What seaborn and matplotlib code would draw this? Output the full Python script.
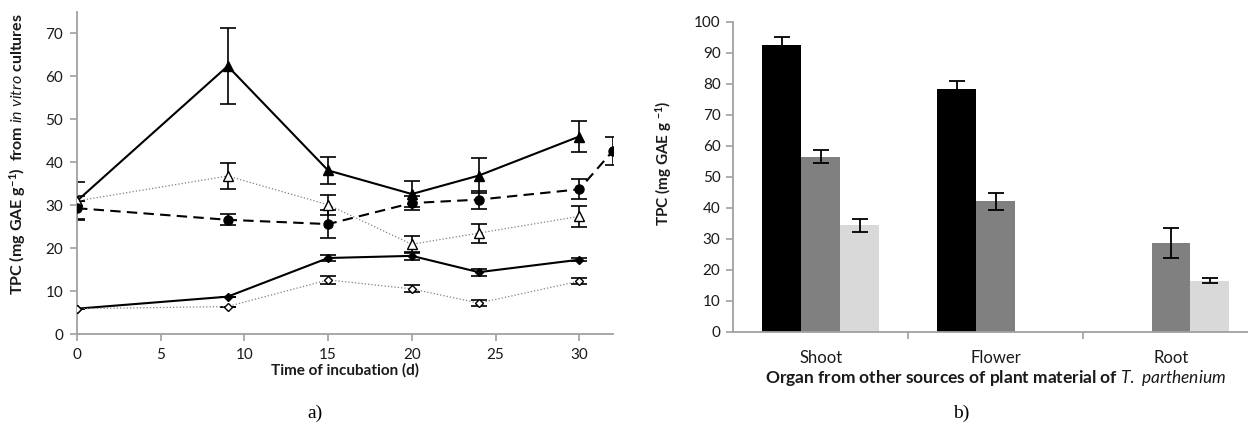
import numpy as np
import pandas as pd
import matplotlib
matplotlib.use("Agg")
import matplotlib.pyplot as plt
import seaborn as sns

# ---------------- data: panel a ----------------
days = [0, 9, 15, 20, 24, 30]
days_ext = [0, 9, 15, 20, 24, 30, 32]
tri_filled = [31.0, 62.4, 38.1, 32.6, 36.9, 46.0]
tri_filled_err = [4.3, 8.8, 3.2, 3.1, 4.0, 3.6]
tri_open = [31.0, 36.8, 30.1, 20.9, 23.5, 27.4]
tri_open_err = [0.0, 3.0, 2.3, 2.0, 2.2, 2.5]
circle = [29.3, 26.6, 25.6, 30.5, 31.3, 33.7, 42.6]
circle_err = [2.8, 1.3, 3.2, 1.6, 2.1, 2.3, 3.2]
dia_filled = [5.9, 8.7, 17.7, 18.2, 14.4, 17.3]
dia_filled_err = [0.0, 0.0, 0.7, 1.0, 0.8, 0.4]
dia_open = [5.9, 6.4, 12.6, 10.5, 7.2, 12.3]
dia_open_err = [0.0, 0.0, 0.9, 0.8, 0.7, 0.7]
x_ticks_a = [0, 5, 10, 15, 20, 25, 30]
y_ticks_a = [0, 10, 20, 30, 40, 50, 60, 70]

# ---------------- data: panel b ----------------
organs = ["Shoot", "Flower", "Root"]
sources = ["Source 1", "Source 2", "Source 3"]
bar_black = [92.6, 78.4, np.nan]
bar_black_err = [2.5, 2.5, np.nan]
bar_gray = [56.5, 42.1, 28.6]
bar_gray_err = [2.0, 2.7, 4.7]
bar_light = [34.3, np.nan, 16.5]
bar_light_err = [2.2, np.nan, 0.9]
y_ticks_b = [0, 10, 20, 30, 40, 50, 60, 70, 80, 90, 100]

sns.set_theme(style="white")
plt.rcParams["font.family"] = ["Lato", "DejaVu Sans"]
plt.rcParams["mathtext.fontset"] = "custom"
plt.rcParams["mathtext.rm"] = "Lato"
plt.rcParams["mathtext.it"] = "Lato:italic"
plt.rcParams["mathtext.bf"] = "Lato:bold"

W, H = 1248, 428
fig = plt.figure(figsize=(W / 100, H / 100), dpi=100)

axis_col = "#a0a0a0"
txt_col = "#1a1a1a"

# ---------- panel a ----------
a_l, a_r, a_t, a_b = 77, 612.7, 12, 334
ax = fig.add_axes([a_l / W, (H - a_b) / H, (a_r - a_l) / W, (a_b - a_t) / H])

series = [
    (days, tri_filled, tri_filled_err, dict(color="black", lw=1.5, ls="-", marker="^", ms=7.5,
                                             mfc="black", mec="black")),
    (days, tri_open, tri_open_err, dict(color="#808080", lw=0.9, ls=":", marker="^", ms=7.5,
                                         mfc="white", mec="black", mew=1.0)),
    (days_ext, circle, circle_err, dict(color="black", lw=1.5, ls=(0, (5, 3)), marker="o", ms=6.5,
                                         mfc="black", mec="black")),
    (days, dia_filled, dia_filled_err, dict(color="black", lw=1.5, ls="-", marker="D", ms=4,
                                             mfc="black", mec="black")),
    (days, dia_open, dia_open_err, dict(color="#808080", lw=0.9, ls=":", marker="D", ms=4,
                                         mfc="white", mec="black", mew=1.0)),
]
for xs, ys, es, st in series:
    df = pd.DataFrame({"x": xs, "y": ys})
    ax.errorbar(xs, ys, yerr=es, fmt="none", ecolor="black", elinewidth=1.2,
                capsize=5.5, capthick=1.2, zorder=2)
    sns.lineplot(data=df, x="x", y="y", ax=ax, color=st["color"], linewidth=st["lw"],
                 linestyle=st["ls"], marker=st["marker"], markersize=st["ms"],
                 markerfacecolor=st["mfc"], markeredgecolor=st["mec"],
                 markeredgewidth=st.get("mew", 1.0), zorder=3, errorbar=None)

ax.set_xlim(0, 32)
ax.set_ylim(0, 75)
ax.set_xticks(x_ticks_a)
ax.set_yticks(y_ticks_a)
for s in ["top", "right"]:
    ax.spines[s].set_visible(False)
for s in ["left", "bottom"]:
    ax.spines[s].set_color(axis_col)
    ax.spines[s].set_linewidth(1.3)
ax.tick_params(axis="both", which="major", length=5, width=1.2, color=axis_col,
               labelsize=11, labelcolor=txt_col, direction="out", bottom=True, left=True)
ax.tick_params(axis="x", pad=5)
ax.tick_params(axis="y", pad=5)
ax.set_xlabel("Time of incubation (d)", fontsize=11, fontweight="bold", color=txt_col)
ax.xaxis.set_label_coords(0.5, (a_b - 370) / (a_b - a_t))
ax.xaxis.label.set_va("center")
ax.set_ylabel(r"TPC (mg GAE g$^{\mathregular{-1}}$)  from $\mathit{in\ vitro}$ cultures",
              fontsize=11.5, fontweight="bold", color=txt_col)
ax.yaxis.set_label_coords((18 - a_l) / (a_r - a_l), (a_b - 154) / (a_b - a_t))
ax.yaxis.label.set_va("center")

fig.text(315 / W, (H - 413) / H, "a)", family="Liberation Serif", fontsize=14,
         ha="center", va="center", color="black")

# ---------- panel b ----------
b_l, b_r, b_t, b_b = 733, 1258.6, 21.7, 331.7
bx = fig.add_axes([b_l / W, (H - b_b) / H, (b_r - b_l) / W, (b_b - b_t) / H])

long = pd.DataFrame({
    "organ": organs * 3,
    "source": [sources[0]] * 3 + [sources[1]] * 3 + [sources[2]] * 3,
    "tpc": bar_black + bar_gray + bar_light,
})
palette = {sources[0]: "#000000", sources[1]: "#808080", sources[2]: "#d9d9d9"}
group_w = 3 / 4.5
sns.barplot(data=long, x="organ", y="tpc", hue="source", order=organs, hue_order=sources,
            palette=palette, width=group_w, errorbar=None, linewidth=0, ax=bx,
            legend=False, zorder=2)
bw = group_w / 3
for j, (vals, errs) in enumerate([(bar_black, bar_black_err), (bar_gray, bar_gray_err),
                                  (bar_light, bar_light_err)]):
    xs = [i + (j - 1) * bw for i in range(len(organs))]
    bx.errorbar(xs, vals, yerr=errs, fmt="none", ecolor="black", elinewidth=1.3,
                capsize=5.5, capthick=1.3, zorder=3)

bx.set_xlim(-0.5, 2.5)
bx.set_ylim(0, 100)
bx.set_yticks(y_ticks_b)
bx.set_xticks(range(len(organs)))
bx.set_xticks([0.5, 1.5], minor=True)
for s in ["top", "right"]:
    bx.spines[s].set_visible(False)
for s in ["left", "bottom"]:
    bx.spines[s].set_color(axis_col)
    bx.spines[s].set_linewidth(1.3)
bx.tick_params(axis="y", length=5, width=1.2, color=axis_col, labelsize=11,
               labelcolor=txt_col, direction="out", left=True, pad=4)
bx.tick_params(axis="x", which="major", length=0, labelsize=12, labelcolor=txt_col, pad=13)
bx.tick_params(axis="x", which="minor", length=5, width=1.2, color=axis_col,
               direction="out", bottom=True)
bx.set_xlabel(r"Organ from other sources of plant material of $\mathit{T.\ parthenium}$",
              fontsize=12.5, fontweight="bold", color=txt_col)
bx.xaxis.set_label_coords((996 - b_l) / (b_r - b_l), (b_b - 378) / (b_b - b_t))
bx.xaxis.label.set_va("center")
bx.set_ylabel(r"TPC (mg GAE g $^{\mathregular{-1}}$)", fontsize=11, fontweight="bold",
              color=txt_col)
bx.yaxis.set_label_coords((664 - b_l) / (b_r - b_l), (b_b - 163) / (b_b - b_t))
bx.yaxis.label.set_va("center")

fig.text(961 / W, (H - 413) / H, "b)", family="Liberation Serif", fontsize=14,
         ha="center", va="center", color="black")

fig.savefig("out.png", dpi=100, facecolor="white")
